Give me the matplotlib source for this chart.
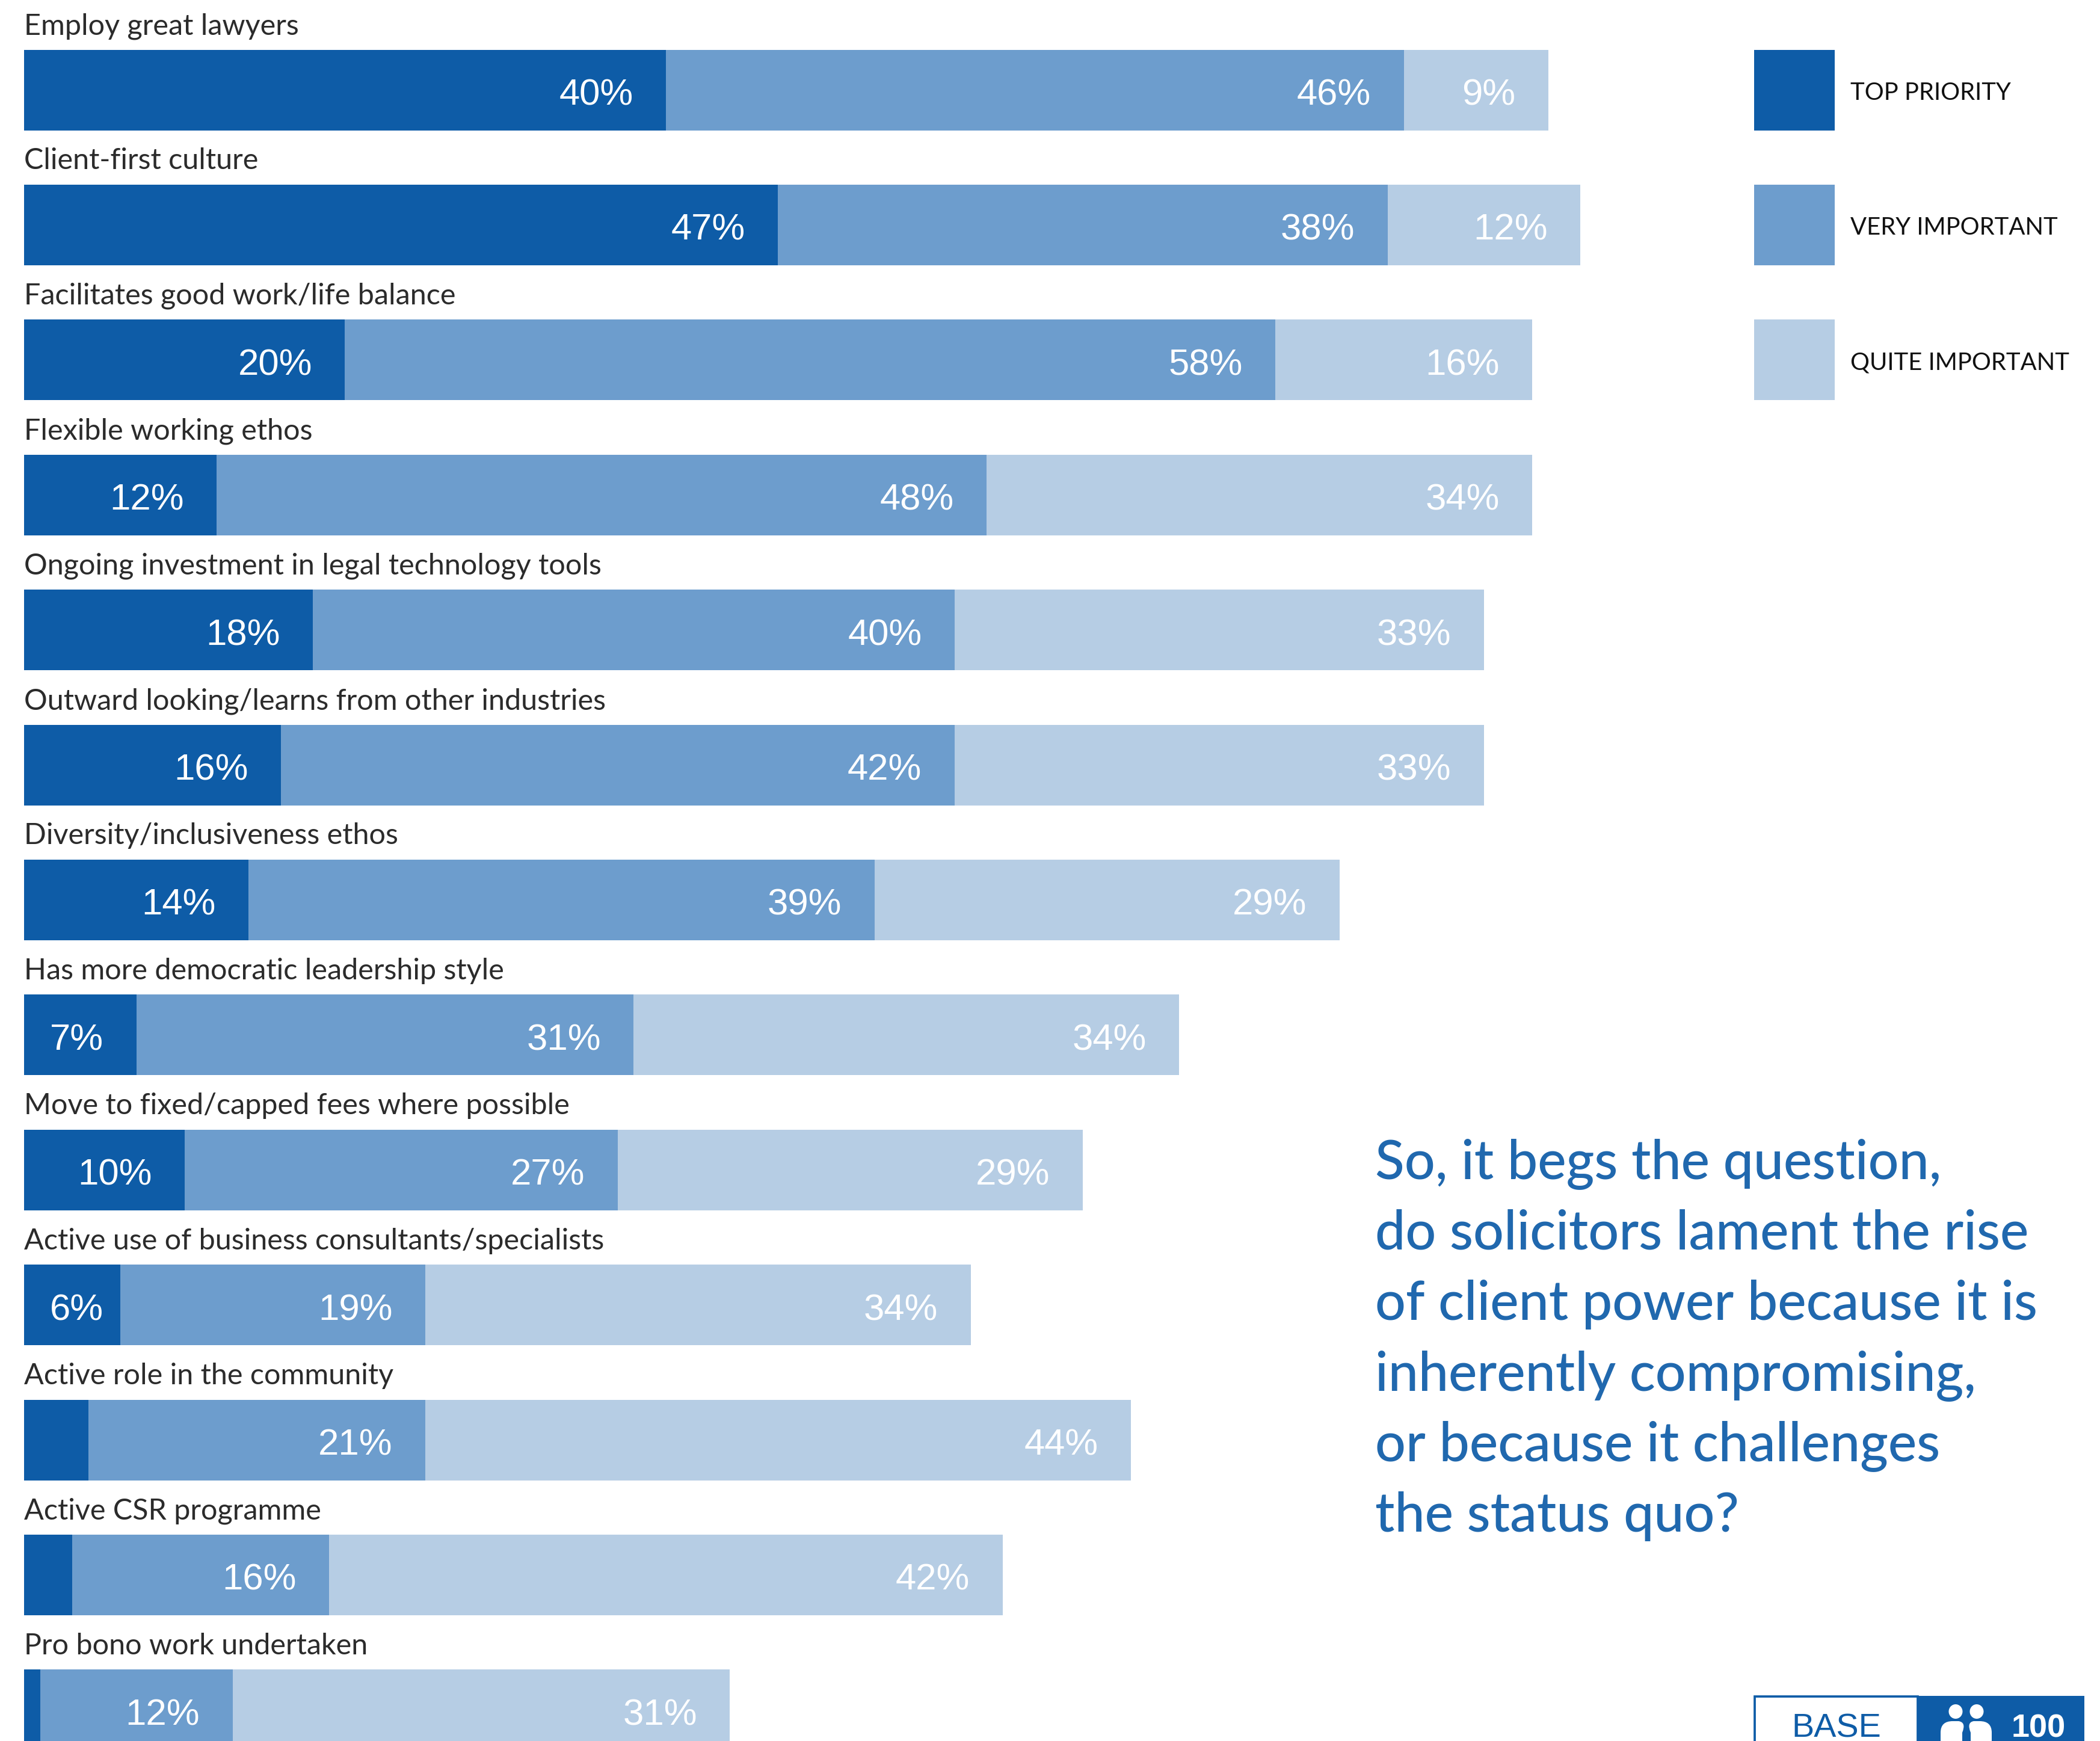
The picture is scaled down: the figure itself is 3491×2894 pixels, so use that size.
"""
stacked bars of what solicitors rate as important in a law firm
"""

import matplotlib
matplotlib.use('Agg')
from matplotlib import pyplot as plt
from matplotlib.patches import Ellipse, PathPatch, Rectangle
from matplotlib.path import Path

categories = [
    'Employ great lawyers', 'Client-first culture',
    'Facilitates good work/life balance', 'Flexible working ethos',
    'Ongoing investment in legal technology tools',
    'Outward looking/learns from other industries',
    'Diversity/inclusiveness ethos', 'Has more democratic leadership style',
    'Move to fixed/capped fees where possible',
    'Active use of business consultants/specialists',
    'Active role in the community', 'Active CSR programme',
    'Pro bono work undertaken',
]
top_priority = [40, 47, 20, 12, 18, 16, 14, 7, 10, 6, 4, 3, 1]
very_important = [46, 38, 58, 48, 40, 42, 39, 31, 27, 19, 21, 16, 12]
quite_important = [9, 12, 16, 34, 33, 33, 29, 34, 29, 34, 44, 42, 31]
series_names = ['TOP PRIORITY', 'VERY IMPORTANT', 'QUITE IMPORTANT']
question = ['So, it begs the question,', 'do solicitors lament the rise',
            'of client power because it is', 'inherently compromising,',
            'or because it challenges', 'the status quo?']

DARK, MID, LIGHT = '#0E5CA7', '#6D9DCD', '#B6CDE4'
W, H = 3491, 2894
X0, PX_PER_PCT = 40, 26.67
FIRST_TOP, PITCH, BAR_H = 82.5, 224.4, 134
LABEL_INSET, LABEL_MIN_RIGHT = 2.07, 4.9

fig = plt.figure(figsize=(W / 300, H / 300), dpi=300, facecolor='white')

# chart axes: x in percent, y in rows, scaled so the bars land in place
ax = fig.add_axes([0, 0, 1, 1])
ax.set_xlim(-X0 / PX_PER_PCT, (W - X0) / PX_PER_PCT)
row_top = -(FIRST_TOP + BAR_H / 2) / PITCH
ax.set_ylim(row_top + H / PITCH, row_top)
ax.axis('off')

rows = range(len(categories))
left = [0] * len(categories)
for values, colour in zip([top_priority, very_important, quite_important],
                          [DARK, MID, LIGHT]):
    ax.barh(rows, values, left=left, height=BAR_H / PITCH, color=colour, linewidth=0)
    for r, v in zip(rows, values):
        # the thinnest segments carry no label
        if v >= 5:
            # short first segments keep the label clear of the left edge
            right = max(left[r] + v - LABEL_INSET, LABEL_MIN_RIGHT)
            ax.annotate(f'{v}%', (right, r), xytext=(0.2, -2.3),
                        textcoords='offset points', ha='right', va='center',
                        color='white', fontsize=14.8, family='Liberation Sans')
    left = [a + b for a, b in zip(left, values)]

for r, name in zip(rows, categories):
    ax.annotate(name, (0, r - BAR_H / PITCH / 2), xytext=(0, 6.1),
                textcoords='offset points', ha='left', va='baseline',
                color='#2b2b2b', fontsize=11.65, family='Lato')

# overlay in pixel coordinates for the legend, the quote and the base box
ov = fig.add_axes([0, 0, 1, 1])
ov.set_xlim(0, W)
ov.set_ylim(H, 0)
ov.axis('off')
ov.patch.set_alpha(0)

for i, (name, colour) in enumerate(zip(series_names, [DARK, MID, LIGHT])):
    y = FIRST_TOP + i * PITCH
    ov.add_patch(Rectangle((2916, y), 134, BAR_H, color=colour, linewidth=0))
    ov.text(3076, y + BAR_H / 2 + 5, name, ha='left', va='center',
            color='#111111', fontsize=9.6, family='Lato')

for i, line in enumerate(question):
    ov.text(2286, 1959 + i * 117.3, line, ha='left', va='baseline',
            color='#2068AE', fontsize=21.5, family='Lato', fontweight='medium')

# base box runs off the bottom edge
ov.add_patch(Rectangle((2917, 2820), 271, 90, facecolor='white', edgecolor=DARK, linewidth=0.9))
ov.add_patch(Rectangle((3188, 2819), 277, 90, color=DARK, linewidth=0))
ov.text(3053, 2887, 'BASE', ha='center', va='baseline', color=DARK,
        fontsize=13.4, family='Liberation Sans')
ov.text(3389, 2887, '100', ha='center', va='baseline', color='white',
        fontsize=13, family='Liberation Sans', fontweight='bold')

# two people icon
for cx in (3251, 3286):
    ov.add_patch(Ellipse((cx, 2845), 23, 24, color='white', linewidth=0))
for verts in (
    [(3226, 2900), (3226, 2880), (3226, 2861), (3246, 2861), (3256, 2861),
     (3269, 2863), (3262, 2880), (3262, 2900), (3226, 2900)],
    [(3311, 2900), (3311, 2880), (3311, 2861), (3291, 2861), (3281, 2861),
     (3269, 2863), (3276, 2880), (3276, 2900), (3311, 2900)],
):
    codes = [Path.MOVETO, Path.LINETO, Path.CURVE3, Path.CURVE3, Path.LINETO,
             Path.CURVE3, Path.CURVE3, Path.LINETO, Path.CLOSEPOLY]
    ov.add_patch(PathPatch(Path(verts, codes), facecolor='white', linewidth=0))

fig.savefig('out.png', dpi=300)
